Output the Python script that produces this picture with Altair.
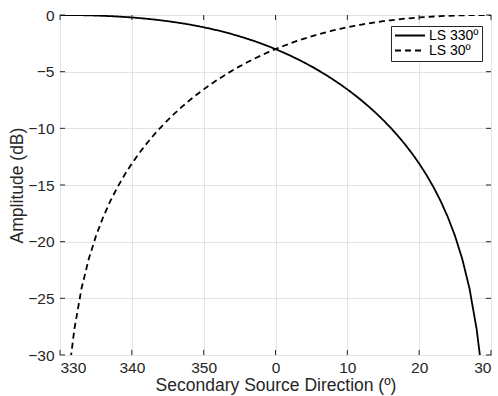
import altair as alt
import pandas as pd

# Angles in degrees (negative = 330..359 side) (dB)
angles_330 = [-30, -29, -28.5, -28, -27, -26, -25, -24, -23, -22, -21, -20, -19, -18, -17, -16,
              -15, -14, -13, -12, -11, -10, -9, -8, -7, -6, -5, -4, -3, -2, -1, 0,
              1, 2, 3, 4, 5, 6, 7, 8, 9, 10, 11, 12, 13, 14, 15, 16, 17, 18, 19, 20,
              21, 22, 23, 24, 25, 26, 27, 28, 28.5, 29]
ls330 = [0.0, -0.002, -0.004, -0.007, -0.017, -0.031, -0.049, -0.072, -0.100, -0.133, -0.173,
         -0.218, -0.269, -0.327, -0.393, -0.465, -0.546, -0.635, -0.733, -0.840, -0.956, -1.083,
         -1.220, -1.367, -1.528, -1.699, -1.883, -2.081, -2.291, -2.516, -2.756, -3.010,
         -3.281, -3.568, -3.873, -4.195, -4.536, -4.897, -5.279, -5.683, -6.111, -6.563,
         -7.042, -7.550, -8.090, -8.664, -9.276, -9.931, -10.634, -11.391, -12.213, -13.109,
         -14.096, -15.193, -16.429, -17.846, -19.510, -21.531, -24.113, -27.719, -30.261, -33.830]

angles_30 = [-29, -28.5, -28, -27, -26, -25, -24, -23, -22, -21, -20, -19, -18, -17, -16,
             -15, -14, -13, -12, -11, -10, -9, -8, -7, -6, -5, -4, -3, -2, -1, 0,
             1, 2, 3, 4, 5, 6, 7, 8, 9, 10, 11, 12, 13, 14, 15, 16, 17, 18, 19, 20,
             21, 22, 23, 24, 25, 26, 27, 28, 28.5, 29, 30]
ls30 = [-33.830, -30.261, -27.719, -24.113, -21.531, -19.510, -17.846, -16.429, -15.193, -14.096,
        -13.109, -12.213, -11.391, -10.634, -9.931, -9.276, -8.664, -8.090, -7.550, -7.042,
        -6.563, -6.111, -5.683, -5.279, -4.897, -4.536, -4.195, -3.873, -3.568, -3.281,
        -3.010, -2.756, -2.516, -2.291, -2.081, -1.883, -1.699, -1.528, -1.367, -1.220,
        -1.083, -0.956, -0.840, -0.733, -0.635, -0.546, -0.465, -0.393, -0.327, -0.269,
        -0.218, -0.173, -0.133, -0.100, -0.072, -0.049, -0.031, -0.017, -0.007, -0.004,
        -0.002, 0.0]

series_names = ["LS 330º", "LS 30º"]
x_ticks = [-30, -20, -10, 0, 10, 20, 30]
y_ticks = [-30, -25, -20, -15, -10, -5, 0]

df = pd.concat([
    pd.DataFrame({"angle": angles_330, "amp": ls330, "series": series_names[0]}),
    pd.DataFrame({"angle": angles_30, "amp": ls30, "series": series_names[1]}),
])
xt = pd.DataFrame({"v": x_ticks})
yt = pd.DataFrame({"v": y_ticks})

FONT = "Liberation Sans"
DARK = "#262626"
LBL = 15.5
TTL = 17.5

xscale = alt.Scale(domain=[-30, 30], nice=False, zero=False)
yscale = alt.Scale(domain=[-30, 0], nice=False, zero=False)

lines = alt.Chart(df).mark_line(clip=True, strokeWidth=1.8, color="black").encode(
    x=alt.X("angle:Q", scale=xscale,
            axis=alt.Axis(values=x_ticks, title="Secondary Source Direction (º)",
                          labelExpr="datum.value < 0 ? datum.value + 360 : datum.value",
                          grid=True, ticks=False, domain=False, labelPadding=5,
                          titlePadding=1, labelFont=FONT, titleFont=FONT,
                          labelFontSize=LBL, titleFontSize=TTL, labelColor=DARK,
                          titleColor=DARK, titleFontWeight="normal",
                          gridColor="#e3e3e3")),
    y=alt.Y("amp:Q", scale=yscale,
            axis=alt.Axis(values=y_ticks, title="Amplitude (dB)", grid=True, ticks=False,
                          domain=False, labelPadding=6, titlePadding=1, labelFont=FONT,
                          titleFont=FONT, labelFontSize=LBL, titleFontSize=TTL,
                          labelColor=DARK, titleColor=DARK, titleFontWeight="normal",
                          gridColor="#e3e3e3")),
    strokeDash=alt.StrokeDash("series:N",
                              scale=alt.Scale(domain=series_names, range=[[1, 0], [6, 4]]),
                              legend=alt.Legend(title=None, orient="none", legendX=331, legendY=11,
                                                symbolType="stroke", symbolSize=900,
                                                symbolStrokeWidth=1.8, symbolStrokeColor="black",
                                                labelFontSize=14, labelFont=FONT, labelColor="black",
                                                strokeColor=DARK, fillColor="white", padding=3,
                                                rowPadding=0, labelOffset=3, symbolOffset=0,
                                                clipHeight=13)),
    order=alt.Order("angle:Q"),
)

tick_len = 5
xb = alt.Chart(xt).mark_rule(color=DARK, strokeWidth=1).encode(
    x=alt.X("v:Q", scale=xscale), y=alt.value(340), y2=alt.value(340 - tick_len))
xtp = alt.Chart(xt).mark_rule(color=DARK, strokeWidth=1).encode(
    x=alt.X("v:Q", scale=xscale), y=alt.value(0), y2=alt.value(tick_len))
yl = alt.Chart(yt).mark_rule(color=DARK, strokeWidth=1).encode(
    y=alt.Y("v:Q", scale=yscale), x=alt.value(0), x2=alt.value(tick_len))
yr = alt.Chart(yt).mark_rule(color=DARK, strokeWidth=1).encode(
    y=alt.Y("v:Q", scale=yscale), x=alt.value(431), x2=alt.value(431 - tick_len))

chart = alt.layer(lines, xb, xtp, yl, yr).properties(
    width=431, height=340,
    autosize=alt.AutoSizeParams(type="none"),
    padding={"left": 60, "top": 15, "right": 7, "bottom": 41},
    background="white",
).configure_view(stroke=DARK, strokeWidth=1)

chart.save("out.html", embed_options={"renderer": "svg", "actions": False})
